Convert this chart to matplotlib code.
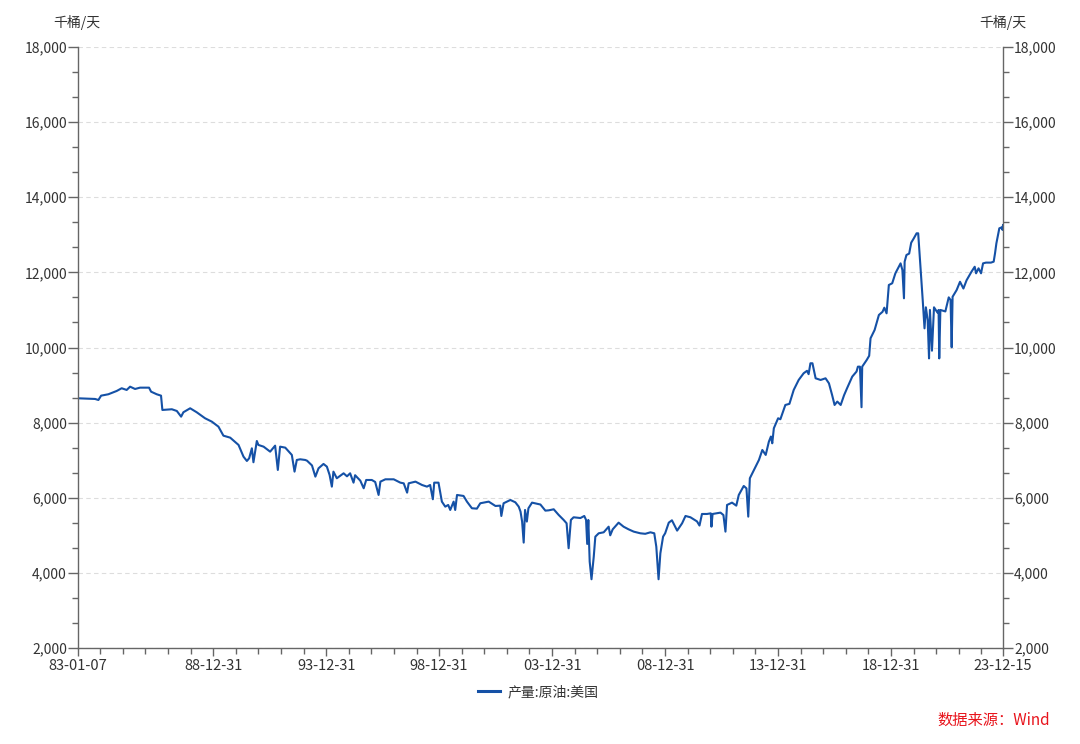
import numpy as np
import pandas as pd
import matplotlib
matplotlib.use("Agg")
import matplotlib.pyplot as plt
import matplotlib.dates as mdates
from matplotlib.ticker import FuncFormatter, MultipleLocator, FixedLocator
from matplotlib.lines import Line2D

plt.rcParams["font.family"] = ["Noto Sans CJK SC", "DejaVu Sans"]

# 产量:原油:美国 (千桶/天), weekly
years = [
    1983.016, 1983.77, 1983.92, 1984.04, 1984.36, 1984.73, 1984.95, 1985.17, 1985.32, 1985.54,
    1985.76, 1986.16, 1986.25, 1986.50, 1986.69, 1986.75, 1987.17, 1987.39, 1987.58, 1987.68,
    1987.98, 1988.27, 1988.64, 1988.94, 1989.23, 1989.45, 1989.75, 1990.12, 1990.34, 1990.49,
    1990.59, 1990.71, 1990.78, 1990.93, 1991.00, 1991.23, 1991.52, 1991.74, 1991.86, 1991.96,
    1992.19, 1992.48, 1992.60, 1992.70, 1992.85, 1993.07, 1993.15, 1993.37, 1993.52, 1993.66,
    1993.88, 1994.03, 1994.15, 1994.25, 1994.32, 1994.47, 1994.77, 1994.92, 1995.06, 1995.21,
    1995.28, 1995.51, 1995.66, 1995.77, 1996.02, 1996.17, 1996.32, 1996.40, 1996.62, 1996.99,
    1997.28, 1997.43, 1997.58, 1997.65, 1997.95, 1998.24, 1998.46, 1998.60, 1998.72, 1998.78,
    1998.97, 1999.12, 1999.27, 1999.40, 1999.49, 1999.64, 1999.71, 1999.79, 2000.08, 2000.23,
    2000.45, 2000.67, 2000.82, 2001.19, 2001.49, 2001.70, 2001.75, 2001.85, 2002.15, 2002.37,
    2002.52, 2002.60, 2002.67, 2002.74, 2002.80, 2002.88, 2002.95, 2003.11, 2003.48, 2003.70,
    2003.85, 2004.07, 2004.29, 2004.51, 2004.64, 2004.73, 2004.83, 2004.95, 2005.25, 2005.42,
    2005.50, 2005.55, 2005.60, 2005.66, 2005.74, 2005.84, 2005.91, 2006.06, 2006.28, 2006.50,
    2006.57, 2006.68, 2006.94, 2007.16, 2007.38, 2007.61, 2007.90, 2008.12, 2008.35, 2008.52,
    2008.61, 2008.67, 2008.71, 2008.79, 2008.91, 2009.00, 2009.16, 2009.30, 2009.53, 2009.75,
    2009.90, 2010.12, 2010.41, 2010.52, 2010.63, 2010.85, 2011.02, 2011.05, 2011.10, 2011.45,
    2011.58, 2011.67, 2011.74, 2011.96, 2012.15, 2012.26, 2012.48, 2012.60, 2012.68, 2012.75,
    2012.93, 2013.15, 2013.30, 2013.45, 2013.59, 2013.68, 2013.74, 2013.81, 2014.00, 2014.10,
    2014.32, 2014.50, 2014.69, 2014.91, 2015.13, 2015.28, 2015.35, 2015.43, 2015.52, 2015.66,
    2015.88, 2016.10, 2016.25, 2016.39, 2016.50, 2016.62, 2016.77, 2016.92, 2017.05, 2017.28,
    2017.47, 2017.53, 2017.62, 2017.66, 2017.69, 2017.72, 2017.92, 2018.03, 2018.09, 2018.27,
    2018.46, 2018.62, 2018.70, 2018.80, 2018.90, 2019.05, 2019.19, 2019.34, 2019.42, 2019.50,
    2019.57, 2019.60, 2019.68, 2019.80, 2019.89, 2020.00, 2020.13, 2020.20, 2020.27, 2020.40,
    2020.48, 2020.54, 2020.62, 2020.68, 2020.72, 2020.81, 2020.90, 2021.05, 2021.10, 2021.13,
    2021.18, 2021.40, 2021.55, 2021.63, 2021.68, 2021.72, 2021.90, 2022.05, 2022.20, 2022.34,
    2022.56, 2022.70, 2022.76, 2022.87, 2022.98, 2023.07, 2023.20, 2023.42, 2023.54, 2023.60,
    2023.66, 2023.79, 2023.90, 2023.93, 2023.955,
]
output = [
    8648, 8630, 8603, 8718, 8755, 8843, 8915, 8870, 8957, 8896,
    8931, 8931, 8824, 8755, 8718, 8337, 8356, 8310, 8159, 8276,
    8382, 8276, 8116, 8026, 7893, 7653, 7600, 7406, 7094, 6979,
    7051, 7317, 6945, 7511, 7406, 7360, 7227, 7387, 6740, 7360,
    7334, 7140, 6695, 7006, 7024, 7006, 6987, 6860, 6562, 6784,
    6900, 6828, 6607, 6296, 6695, 6519, 6651, 6571, 6651, 6402,
    6600, 6455, 6252, 6473, 6473, 6420, 6074, 6429, 6491, 6491,
    6402, 6384, 6136, 6385, 6429, 6340, 6296, 6340, 5960, 6402,
    6402, 5897, 5763, 5808, 5675, 5897, 5675, 6074, 6048, 5897,
    5720, 5710, 5853, 5897, 5781, 5790, 5515, 5853, 5941, 5879,
    5763, 5630, 5366, 4806, 5675, 5366, 5720, 5870, 5820, 5657,
    5665, 5693, 5542, 5409, 5320, 4656, 5409, 5480, 5460, 5515,
    5409, 4770, 5409, 4300, 3830, 4432, 4964, 5054, 5080, 5230,
    5000, 5160, 5337, 5230, 5160, 5098, 5054, 5040, 5080, 5054,
    4698, 4166, 3830, 4521, 4964, 5054, 5337, 5400, 5125, 5320,
    5515, 5480, 5370, 5260, 5568, 5568, 5585, 5230, 5568, 5604,
    5540, 5098, 5808, 5870, 5790, 6074, 6314, 6250, 5497, 6519,
    6740, 7006, 7272, 7140, 7493, 7630, 7450, 7850, 8116, 8090,
    8470, 8500, 8870, 9136, 9314, 9380, 9290, 9580, 9580, 9180,
    9136, 9180, 9047, 8736, 8470, 8560, 8470, 8730, 8915, 9225,
    9360, 9490, 9490, 8870, 8410, 9490, 9668, 9780, 10245, 10466,
    10866, 10950, 11060, 10910, 11664, 11710, 11975, 12150, 12240, 12063,
    11310, 12285, 12463, 12500, 12790, 12900, 13040, 13040, 12420, 11265,
    10510, 11070, 10730, 9710, 11000, 9915, 11070, 10930, 11000, 9710,
    11000, 10960, 11335, 11265, 10006, 11350, 11530, 11750, 11570, 11790,
    12020, 12150, 11975, 12108, 11975, 12240, 12260, 12260, 12285, 12508,
    12773, 13173, 13200, 13130, 13260,
]

start_date = "1983-01-07"
end_date = "2023-12-15"
label_dates = [start_date, "1988-12-31", "1993-12-31", "1998-12-31", "2003-12-31",
               "2008-12-31", "2013-12-31", "2018-12-31", end_date]
series_name = "产量:原油:美国"
unit = "千桶/天"
source = "数据来源：Wind"


def to_date(y):
    yr = int(y)
    return pd.Timestamp(yr, 1, 1) + pd.Timedelta(days=(y - yr) * 365.25)


dates = [to_date(y) for y in years]
dates[0] = pd.Timestamp(start_date)
dates[-1] = pd.Timestamp(end_date)

LINE = "#1551a6"
AXC = "#666666"
TXT = "#333333"

fig = plt.figure(figsize=(10.8, 7.44), dpi=100)
ax = fig.add_axes([78 / 1080, 1 - 648 / 744, 925 / 1080, 601 / 744])

ax.plot(dates, output, color=LINE, linewidth=1.5, solid_joinstyle="round")

ax.set_xlim(pd.Timestamp(start_date), pd.Timestamp(end_date))
ax.set_ylim(2000, 18000)

# y axis on both sides
ax.yaxis.set_major_locator(MultipleLocator(2000))
ax.yaxis.set_minor_locator(MultipleLocator(2000 / 3))
ax.yaxis.set_major_formatter(FuncFormatter(lambda v, p: f"{v:,.0f}"))
ax.tick_params(axis="y", which="both", left=True, right=True,
               labelleft=True, labelright=True, colors=AXC, labelcolor=TXT,
               labelsize=10, pad=1)
ax.tick_params(axis="y", which="major", length=7, width=1)
ax.tick_params(axis="y", which="minor", length=4, width=1)

# x axis: labelled dates, yearly minor ticks at year end
ax.xaxis.set_major_locator(FixedLocator([mdates.date2num(pd.Timestamp(d)) for d in label_dates]))
ax.xaxis.set_major_formatter(mdates.DateFormatter("%y-%m-%d"))
year_ends = [mdates.date2num(pd.Timestamp(f"{y}-12-31")) for y in range(1983, 2023)]
ax.xaxis.set_minor_locator(FixedLocator(year_ends))
ax.tick_params(axis="x", which="both", colors=AXC, labelcolor=TXT, labelsize=10.5, pad=2)
ax.tick_params(axis="x", which="major", length=6, width=1)
ax.tick_params(axis="x", which="minor", length=4, width=1)

for s in ["left", "right", "bottom"]:
    ax.spines[s].set_color(AXC)
    ax.spines[s].set_linewidth(1)
ax.spines["top"].set_visible(False)

ax.grid(axis="y", which="major", color="#dddddd", linestyle=(0, (4, 3)), linewidth=0.8)
ax.set_axisbelow(True)

fig.text(77 / 1080, 1 - 23 / 744, unit, ha="center", va="center", fontsize=10, color=TXT)
fig.text(1003 / 1080, 1 - 23 / 744, unit, ha="center", va="center", fontsize=10, color=TXT)

handle = Line2D([], [], color=LINE, linewidth=2.2)
fig.legend([handle], [series_name], loc="center", bbox_to_anchor=(538 / 1080, 1 - 692 / 744),
           frameon=False, fontsize=10, handlelength=1.6, handletextpad=0.5, labelcolor=TXT)

fig.text(1050 / 1080, 1 - 720 / 744, source, ha="right", va="center",
         fontsize=11, color="#e8141c")

fig.savefig("out.png", dpi=100)
